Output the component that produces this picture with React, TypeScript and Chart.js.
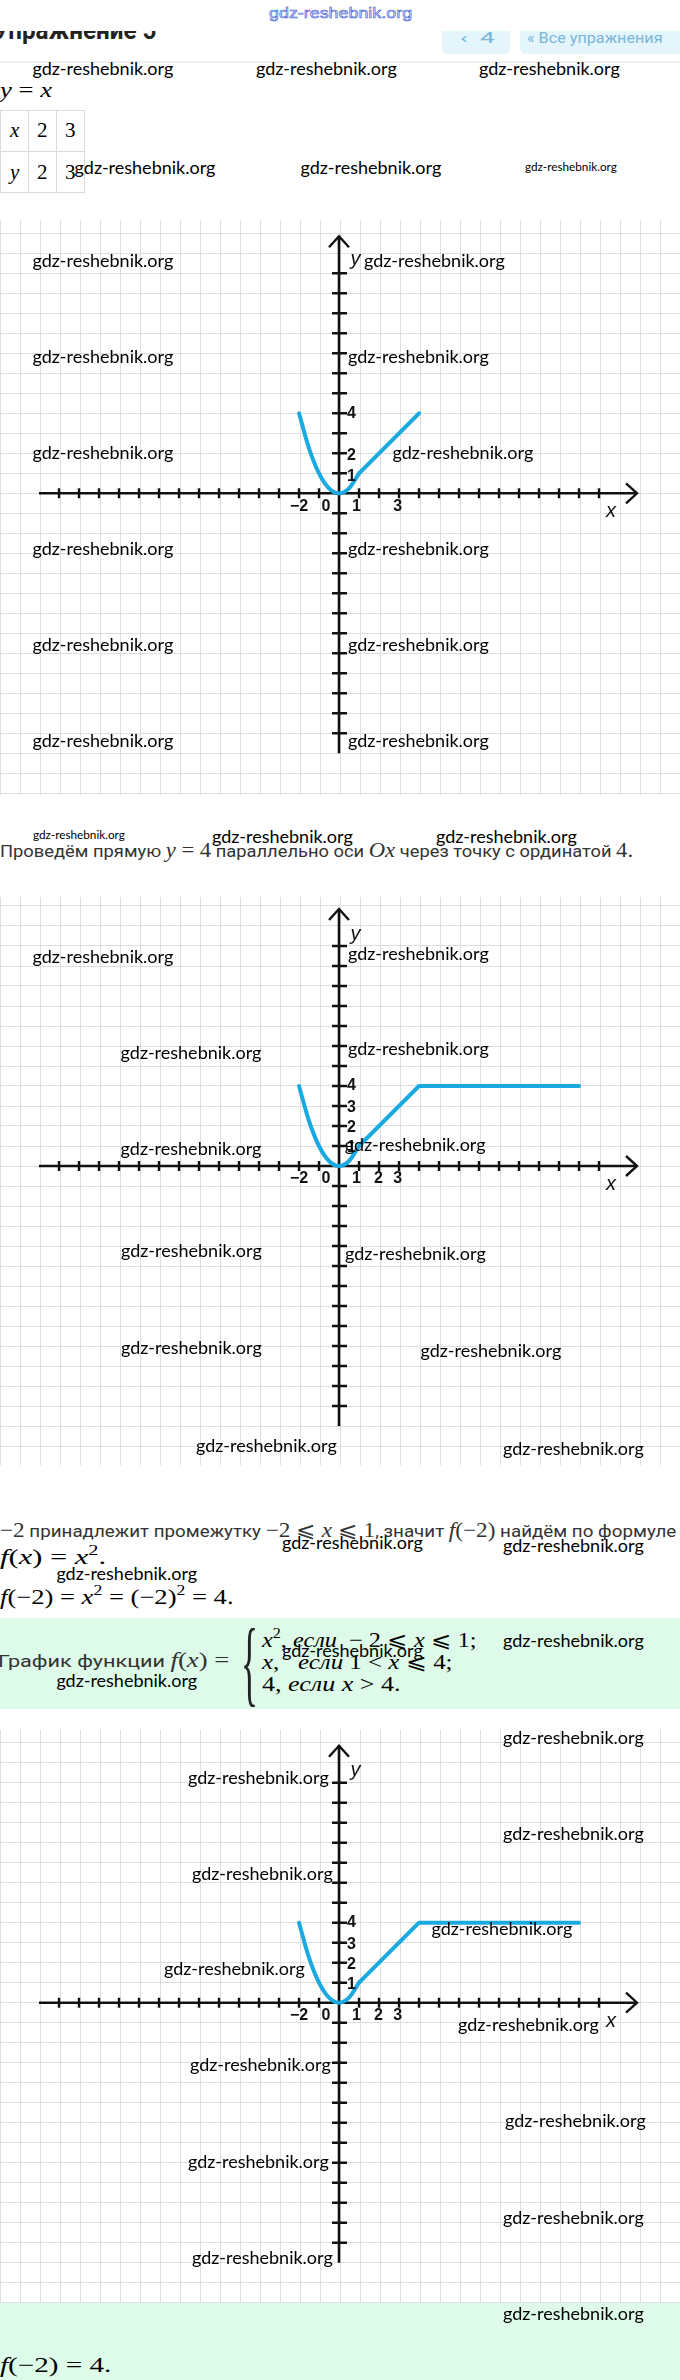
import React, { useEffect, useLayoutEffect, useRef } from "react";
import { Chart, registerables } from "chart.js";
Chart.register(...registerables);

// ---------- chart data ----------
const parabolaX = [-2, -1.5, -1, -0.5, 0, 0.5, 1];
const parabolaY = [4, 2.25, 1, 0.25, 0, 0.25, 1];
const rayX = [1, 4];
const rayY = [1, 4];
const brokenX = [1, 4, 12];
const brokenY = [1, 4, 4];

const xTickVals = [-14, -13, -12, -11, -10, -9, -8, -7, -6, -5, -4, -3, -2, -1, 1, 2, 3, 4, 5, 6, 7, 8, 9, 10, 11, 12, 13];
const yTickVals = [-12, -11, -10, -9, -8, -7, -6, -5, -4, -3, -2, -1, 1, 2, 3, 4, 5, 6, 7, 8, 9, 10, 11];

const xLabels1 = ["−2", "0", "1", "3"];
const xLabelVals1 = [-2, -0.65, 0.87, 2.93];
const yLabels1 = ["4", "2", "1"];
const yLabelVals1 = [4, 1.9, 0.85];

const xLabels2 = ["−2", "0", "1", "2", "3"];
const xLabelVals2 = [-2, -0.65, 0.87, 1.97, 2.93];
const yLabels2 = ["4", "3", "2", "1"];
const yLabelVals2 = [4, 2.9, 1.9, 0.9];

const X_MIN = -16.95;
const X_MAX = 17.05;
const X_AXIS_FROM = -15;
const X_AXIS_TO = 14.9;
const Y_AXIS_FROM = -13;
const Y_AXIS_TO = 12.85;

const CURVE = "#1ba9e1";
const GRID = "#dedede";
const AXIS = "#111";
const LABEL_FONT = "bold 16px 'Liberation Sans Narrow', 'Liberation Sans', Arial, sans-serif";
const NAME_FONT = "italic 20px 'Liberation Sans Narrow', 'Liberation Sans', Arial, sans-serif";

type Piece = { xs: number[]; ys: number[]; smooth?: boolean };
type GraphProps = {
  top: number; height: number; yMin: number; yMax: number; pieces: Piece[];
  xLabels: string[]; xLabelVals: number[]; yLabels: string[]; yLabelVals: number[]; yNameAt: number;
};

function Graph(p: GraphProps) {
  const ref = useRef<HTMLCanvasElement>(null);
  useEffect(() => {
    const plugin = {
      id: "mathAxes",
      beforeDatasetsDraw(chart: any) {
        const { ctx } = chart;
        const xs = chart.scales.x, ys = chart.scales.y;
        const X = (v: number) => xs.getPixelForValue(v);
        const Y = (v: number) => ys.getPixelForValue(v);
        const ox = X(0), oy = Y(0);
        ctx.save();
        ctx.strokeStyle = AXIS;
        ctx.lineWidth = 2.6;
        ctx.beginPath();
        ctx.moveTo(X(X_AXIS_FROM), oy); ctx.lineTo(X(X_AXIS_TO), oy);
        ctx.moveTo(ox, Y(Y_AXIS_FROM)); ctx.lineTo(ox, Y(Y_AXIS_TO));
        ctx.stroke();
        ctx.lineWidth = 2.4;
        ctx.beginPath();
        xTickVals.forEach((v) => { ctx.moveTo(X(v), oy - 5); ctx.lineTo(X(v), oy + 5); });
        yTickVals.forEach((v) => { ctx.moveTo(ox - 7, Y(v)); ctx.lineTo(ox + 8, Y(v)); });
        ctx.stroke();
        ctx.beginPath();
        const xt = X(X_AXIS_TO);
        ctx.moveTo(xt - 11, oy - 10); ctx.lineTo(xt, oy); ctx.lineTo(xt - 11, oy + 10);
        const yt = Y(Y_AXIS_TO);
        ctx.moveTo(ox - 10, yt + 11); ctx.lineTo(ox, yt); ctx.lineTo(ox + 10, yt + 11);
        ctx.stroke();
        ctx.restore();
      },
      afterDatasetsDraw(chart: any) {
        const { ctx } = chart;
        const xs = chart.scales.x, ys = chart.scales.y;
        const X = (v: number) => xs.getPixelForValue(v);
        const Y = (v: number) => ys.getPixelForValue(v);
        const ox = X(0);
        ctx.save();
        ctx.fillStyle = AXIS;
        ctx.font = LABEL_FONT;
        ctx.textBaseline = "middle";
        ctx.textAlign = "center";
        p.xLabels.forEach((t, i) => ctx.fillText(t, X(p.xLabelVals[i]), Y(-0.65)));
        ctx.textAlign = "left";
        p.yLabels.forEach((t, i) => ctx.fillText(t, ox + 8, Y(p.yLabelVals[i])));
        ctx.font = NAME_FONT;
        ctx.textAlign = "center";
        ctx.fillText("x", X(13.6), Y(-0.93));
        ctx.fillText("y", X(0.83), Y(p.yNameAt));
        ctx.restore();
      },
    };
    const chart = new Chart(ref.current!, {
      type: "scatter",
      data: {
        datasets: p.pieces.map((pc) => ({
          data: pc.xs.map((x, i) => ({ x, y: pc.ys[i] })),
          showLine: true,
          borderColor: CURVE,
          borderWidth: 4,
          pointRadius: 0,
          fill: false,
          cubicInterpolationMode: pc.smooth ? "monotone" : "default",
          tension: 0,
          borderCapStyle: "round",
          borderJoinStyle: "round",
        })) as any,
      },
      options: {
        animation: false,
        responsive: false,
        devicePixelRatio: 1,
        events: [],
        layout: { padding: 0 },
        plugins: { legend: { display: false }, tooltip: { enabled: false } },
        scales: {
          x: {
            type: "linear", min: X_MIN, max: X_MAX,
            ticks: { display: false, stepSize: 1, includeBounds: false },
            grid: { color: GRID, lineWidth: 1, drawTicks: false },
            border: { display: false },
            afterFit: (s: any) => { s.height = 0; },
          },
          y: {
            type: "linear", min: p.yMin, max: p.yMax,
            ticks: { display: false, stepSize: 1, includeBounds: false },
            grid: { color: GRID, lineWidth: 1, drawTicks: false },
            border: { display: false },
            afterFit: (s: any) => { s.width = 0; },
          },
        },
      } as any,
      plugins: [plugin as any],
    });
    return () => chart.destroy();
  }, []);
  return (
    <canvas ref={ref} width={680} height={p.height}
      style={{ position: "absolute", left: 0, top: p.top, width: 680, height: p.height }} />
  );
}

function Fit({ x, y, w, h = 24, style, children }: any) {
  const ref = useRef<HTMLDivElement>(null);
  useLayoutEffect(() => {
    const el = ref.current;
    if (!el || !w) return;
    el.style.transform = "none";
    const nat = el.offsetWidth;
    if (nat > 0) el.style.transform = `scaleX(${w / nat})`;
  });
  return (
    <div ref={ref} style={{
      position: "absolute", left: x, top: y - h / 2, height: h, lineHeight: `${h}px`,
      whiteSpace: "nowrap", transformOrigin: "0 0", ...style,
    }}>{children}</div>
  );
}

const SERIF = "'Liberation Serif', 'DejaVu Serif', serif";
const RU = { fontFamily: "Roboto, 'Liberation Sans', sans-serif", fontSize: 17, color: "#333" };
const MI: React.CSSProperties = { fontFamily: SERIF, fontStyle: "italic", fontSize: 21 };
const MU: React.CSSProperties = { fontFamily: SERIF, fontStyle: "normal", fontSize: 21 };
const SUP: React.CSSProperties = { fontFamily: SERIF, fontSize: 14, verticalAlign: 0, position: "relative", top: -9 };

const I = ({ children }: any) => <span style={MI}>{children}</span>;
const U = ({ children }: any) => <span style={MU}>{children}</span>;
const S = ({ children }: any) => <span style={SUP}>{children}</span>;

// watermark placements: [left, centerY, small]
const marks: [number, number, number][] = [
  [32.5, 68, 0], [256, 68, 0], [479, 68, 0],
  [74.6, 167, 0], [300.5, 167, 0], [524.7, 167, 1],
  [32.5, 260, 0], [364, 260, 0], [32.5, 356, 0], [348, 356, 0],
  [32.5, 452, 0], [392.5, 452, 0], [32.5, 548, 0], [348, 548, 0],
  [32.5, 644, 0], [348, 644, 0], [32.5, 740, 0], [348, 740, 0],
  [32.5, 835, 1], [212, 836, 0], [436, 836, 0],
  [32.5, 956, 0], [348, 953, 0], [120.6, 1052, 0], [348, 1048, 0],
  [120.6, 1148, 0], [344.8, 1144, 0], [121, 1250, 0], [345, 1253, 0],
  [121, 1347, 0], [420.5, 1350, 0], [196, 1445, 0], [503, 1448, 0],
  [282, 1542, 0], [503, 1545, 0], [56.4, 1573, 0],
  [503, 1640, 0], [282, 1650, 0], [56.4, 1680, 0],
  [503, 1737, 0], [188, 1777, 0], [503, 1833, 0], [192, 1873, 0],
  [431.5, 1928, 0], [164, 1968, 0], [458, 2024, 0], [190, 2064, 0],
  [505, 2120, 0], [188, 2161, 0], [503, 2217, 0], [192, 2257, 0], [503, 2313, 0],
];

export default function App() {
  const cell: React.CSSProperties = { position: "absolute", border: "1px solid #dcdcdc", boxSizing: "border-box" };
  return (
    <div style={{ position: "absolute", left: 0, top: 0, width: 680, height: 2380, overflow: "hidden", background: "#fff" }}>
      {/* header */}
      <Fit x={-6} y={30} w={162} h={30} style={{ fontFamily: "Roboto, Arial, sans-serif", fontWeight: 700, fontSize: 26, color: "#222" }}>Упражнение 5</Fit>
      <div style={{ position: "absolute", left: 442, top: 22, width: 68, height: 32, background: "#e4f5fb", borderRadius: 6 }} />
      <div style={{ position: "absolute", left: 520, top: 22, width: 170, height: 32, background: "#e4f5fb", borderRadius: 6 }} />
      <Fit x={460} y={38} w={34} h={20} style={{ fontFamily: "Roboto, sans-serif", fontSize: 15, color: "#7ab6da" }}>‹&nbsp;&nbsp;4</Fit>
      <Fit x={527} y={38} w={136} h={20} style={{ fontFamily: "Roboto, sans-serif", fontSize: 15, color: "#7ab6da" }}>« Все упражнения</Fit>
      <div style={{ position: "absolute", left: 0, top: 0, width: 680, height: 31, background: "#fff" }} />
      <div style={{ position: "absolute", left: 0, top: 61, width: 680, height: 2, background: "#f0f0f0" }} />
      <Fit x={269} y={13} w={143} h={18} style={{ fontFamily: "'Liberation Sans Narrow', 'Liberation Sans', sans-serif", fontSize: 15, color: "#dfe5ff", WebkitTextStroke: "0.55px #3b57d6", zIndex: 6 }}>gdz-reshebnik.org</Fit>

      {/* y = x and table */}
      <Fit x={0} y={90} w={52} h={26}><I>y</I><U> = </U><I>x</I></Fit>
      <div style={{ ...cell, left: 0, top: 110, width: 29, height: 42 }} />
      <div style={{ ...cell, left: 28, top: 110, width: 29, height: 42 }} />
      <div style={{ ...cell, left: 56, top: 110, width: 29, height: 42 }} />
      <div style={{ ...cell, left: 0, top: 151, width: 29, height: 42 }} />
      <div style={{ ...cell, left: 28, top: 151, width: 29, height: 42 }} />
      <div style={{ ...cell, left: 56, top: 151, width: 29, height: 42 }} />
      <Fit x={10} y={130} h={26}><I>x</I></Fit>
      <Fit x={37} y={130} h={26}><U>2</U></Fit>
      <Fit x={65} y={130} h={26}><U>3</U></Fit>
      <Fit x={10} y={172} h={26}><I>y</I></Fit>
      <Fit x={37} y={172} h={26}><U>2</U></Fit>
      <Fit x={65} y={172} h={26}><U>3</U></Fit>

      <Graph top={220} height={575} yMin={-15.085} yMax={13.665}
        pieces={[{ xs: parabolaX, ys: parabolaY, smooth: true }, { xs: rayX, ys: rayY }]}
        xLabels={xLabels1} xLabelVals={xLabelVals1} yLabels={yLabels1} yLabelVals={yLabelVals1} yNameAt={11.67} />

      <Fit x={0} y={850} w={633} h={26} style={RU}>Проведём прямую <I>y</I><U> = 4</U> параллельно оси <I>Ox</I> через точку с ординатой <U>4.</U></Fit>

      <Graph top={897} height={568} yMin={-14.95} yMax={13.45}
        pieces={[{ xs: parabolaX, ys: parabolaY, smooth: true }, { xs: brokenX, ys: brokenY }]}
        xLabels={xLabels2} xLabelVals={xLabelVals2} yLabels={yLabels2} yLabelVals={yLabelVals2} yNameAt={11.6} />

      <Fit x={0} y={1530} w={676} h={26} style={RU}><U>−2</U> принадлежит промежутку <U>−2 ⩽ </U><I>x</I><U> ⩽ 1</U>, значит <I>f</I><U>(−2)</U> найдём по формуле</Fit>
      <Fit x={0} y={1557} w={106} h={26}><I>f</I><U>(</U><I>x</I><U>) = </U><I>x</I><S>2</S><U>.</U></Fit>
      <Fit x={0} y={1597} w={234} h={26}><I>f</I><U>(−2) = </U><I>x</I><S>2</S><U> = (−2)</U><S>2</S><U> = 4.</U></Fit>

      <div style={{ position: "absolute", left: 0, top: 1618, width: 680, height: 91, background: "#defbe9" }} />
      <Fit x={-2} y={1660} w={232} h={26} style={RU}>График функции <I>f</I><U>(</U><I>x</I><U>) =</U></Fit>
      <Fit x={241} y={1662} w={17} h={100} style={{ fontFamily: SERIF, fontSize: 96, fontWeight: 300, color: "#222" }}>{"{"}</Fit>
      <Fit x={262} y={1640} w={215} h={24}><I>x</I><S>2</S><U>, </U><I>если</I><U>&nbsp; − 2 ⩽ </U><I>x</I><U> ⩽ 1;</U></Fit>
      <Fit x={262} y={1662} w={191} h={24}><I>x</I><U>,&nbsp;&nbsp; </U><I>если</I><U> 1 &lt; </U><I>x</I><U> ⩽ 4;</U></Fit>
      <Fit x={262} y={1684} w={139} h={24}><U>4, </U><I>если</I><U> </U><I>x</I><U> &gt; 4.</U></Fit>

      <Graph top={1730} height={573} yMin={-15.015} yMax={13.635}
        pieces={[{ xs: parabolaX, ys: parabolaY, smooth: true }, { xs: brokenX, ys: brokenY }]}
        xLabels={xLabels2} xLabelVals={xLabelVals2} yLabels={yLabels2} yLabelVals={yLabelVals2} yNameAt={11.6} />

      <div style={{ position: "absolute", left: 0, top: 2303, width: 680, height: 77, background: "#defbe9" }} />
      <Fit x={0} y={2365} w={111} h={26}><I>f</I><U>(−2) = 4.</U></Fit>

      {marks.map(([x, y, small], i) => (
        <Fit key={i} x={x} y={y} w={small ? 92 : 141} h={small ? 16 : 24}
          style={{ fontFamily: "Lato, 'Open Sans', sans-serif", fontSize: small ? 12 : 18, color: "#000", zIndex: 5 }}>
          gdz-reshebnik.org
        </Fit>
      ))}
    </div>
  );
}
